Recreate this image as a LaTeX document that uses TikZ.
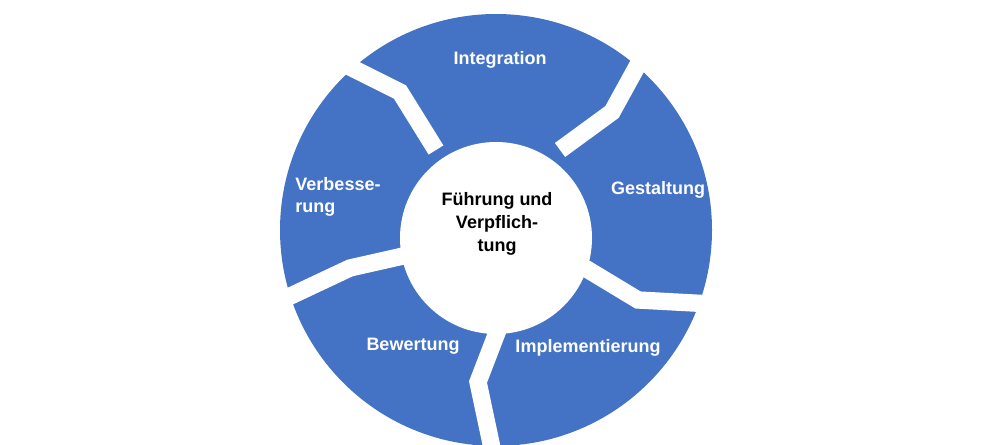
\documentclass[tikz,border=0pt]{standalone}
\usepackage{fontspec}
\setmainfont{Liberation Sans}
\usetikzlibrary{positioning}
\definecolor{cycleblue}{HTML}{4472C4}
\begin{document}
\begin{tikzpicture}[x=0.75pt,y=-0.75pt,
    label/.style={text=white, font=\fontsize{13.5}{16}\selectfont\bfseries, align=center},
    gap/.style={white, line width=13pt, line join=miter},
]
\useasboundingbox (0,0) rectangle (992,445);
\fill[cycleblue] (496,230) circle[radius=216];
% separators between the phases
\draw[gap] (436,150) -- (400,92) -- (340,62);
\draw[gap] (560,150) -- (612,112) -- (645,52);
\draw[gap] (585,268) -- (638,300) -- (712,304);
\draw[gap] (498,330) -- (478,382) -- (492,448);
\draw[gap] (412,254) -- (350,268) -- (282,300);
\fill[white] (496,238) circle[radius=96];

\node[label] (integ) at (500,60) {Integration};
\node[label] (gest) at (658,190) {Gestaltung};
\node[label] (impl) at (588,348) {Implementierung};
\node[label] (bew) at (413,346) {Bewertung};
\node[label, align=left] (verb) at (338,197) {Verbesse-\\rung};
\node[font=\fontsize{13.5}{17}\selectfont\bfseries, align=center] (lead) at (497,224) {Führung und\\Verpflich-\\tung};
\end{tikzpicture}
\end{document}
